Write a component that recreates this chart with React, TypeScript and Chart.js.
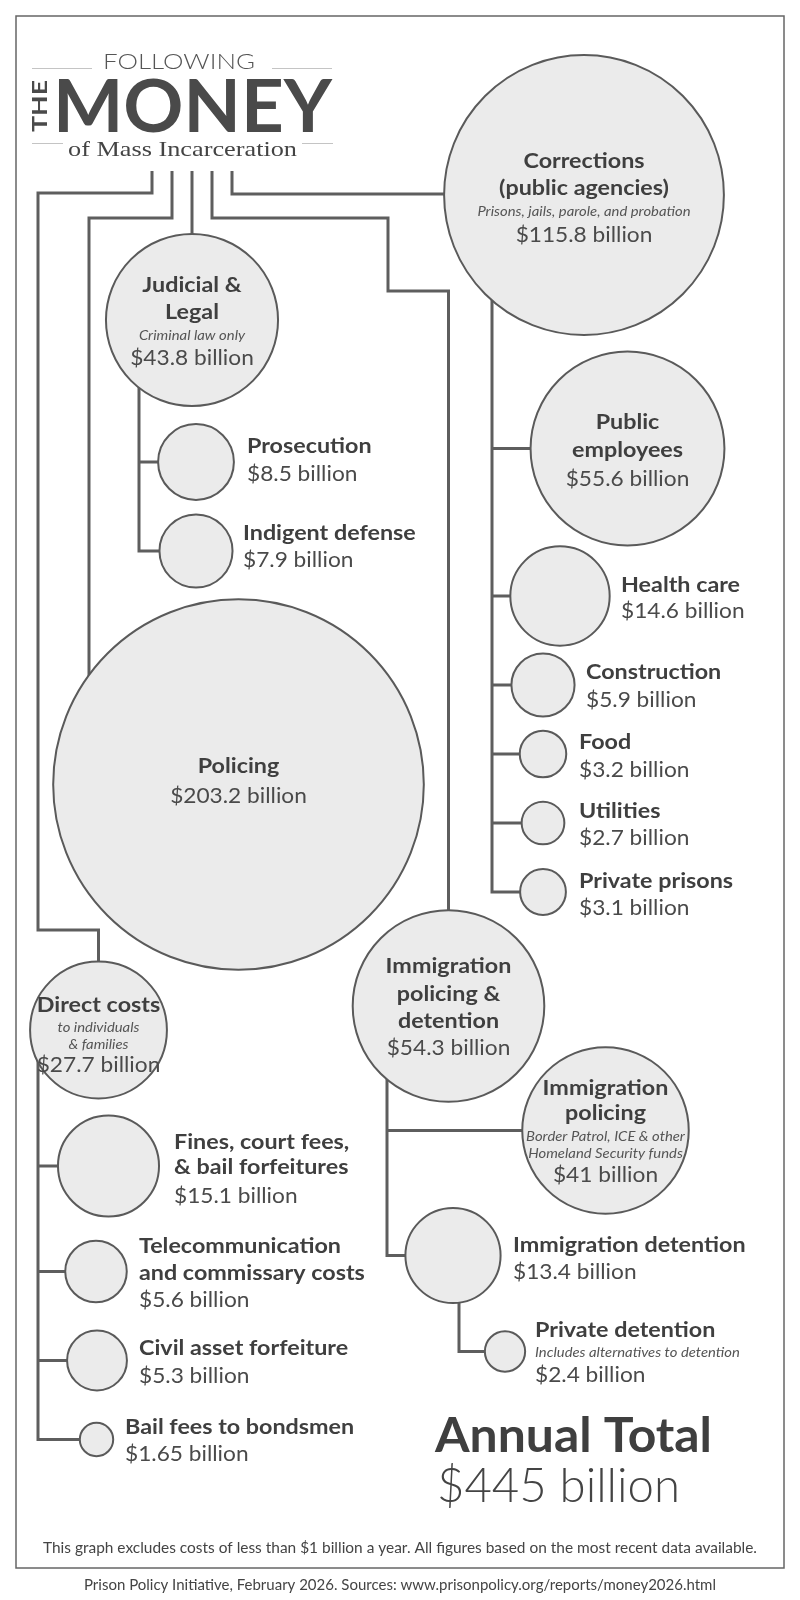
import React, { useEffect, useRef } from 'react';
import { Chart, registerables } from 'chart.js';
Chart.register(...registerables);

// ---------- DATA ----------
const categories = [
  'Corrections (public agencies)', 'Public employees', 'Health care', 'Construction', 'Food', 'Utilities', 'Private prisons',
  'Judicial & Legal', 'Prosecution', 'Indigent defense', 'Policing',
  'Direct costs', 'Fines, court fees, & bail forfeitures', 'Telecommunication and commissary costs', 'Civil asset forfeiture', 'Bail fees to bondsmen',
  'Immigration policing & detention', 'Immigration policing', 'Immigration detention', 'Private detention',
];
const valuesBillions = [115.8, 55.6, 14.6, 5.9, 3.2, 2.7, 3.1, 43.8, 8.5, 7.9, 203.2, 27.7, 15.1, 5.6, 5.3, 1.65, 54.3, 41, 13.4, 2.4];
const annualTotalBillions = 445;

// ---------- LAYOUT (positions / text placement, not data) ----------
const RADIUS_K = 13; // px per sqrt(billion)
const centers: [number, number][] = [
  [584, 195], [627.5, 448.5], [560, 596], [543, 685], [543, 754], [543, 823], [543, 892],
  [192, 320], [196, 462], [196, 551], [238.5, 784.5],
  [98.5, 1030], [108.5, 1166], [96, 1271.5], [97, 1360.5], [96.5, 1439.5],
  [448.5, 1006], [605.5, 1130.5], [453, 1255.5], [505, 1351.5],
];
type Lbl = { pos: 'in' | 'right'; dx?: number; title: string[]; note: string[]; dys: number[] };
const labels: Lbl[] = [
  { pos: 'in', title: ['Corrections', '(public agencies)'], note: ['Prisons, jails, parole, and probation'], dys: [-34, -7, 16, 40] },
  { pos: 'in', title: ['Public', 'employees'], note: [], dys: [-26.5, 1.5, 30.5] },
  { pos: 'right', dx: 61, title: ['Health care'], note: [], dys: [-11, 15] },
  { pos: 'right', dx: 43, title: ['Construction'], note: [], dys: [-13, 15] },
  { pos: 'right', dx: 36, title: ['Food'], note: [], dys: [-12, 16] },
  { pos: 'right', dx: 36, title: ['Utilities'], note: [], dys: [-12, 15] },
  { pos: 'right', dx: 36, title: ['Private prisons'], note: [], dys: [-11, 16] },
  { pos: 'in', title: ['Judicial &', 'Legal'], note: ['Criminal law only'], dys: [-35, -8, 15, 38] },
  { pos: 'right', dx: 51, title: ['Prosecution'], note: [], dys: [-16, 12] },
  { pos: 'right', dx: 47, title: ['Indigent defense'], note: [], dys: [-18, 9] },
  { pos: 'in', title: ['Policing'], note: [], dys: [-18.5, 11.5] },
  { pos: 'in', title: ['Direct costs'], note: ['to individuals', '& families'], dys: [-25, -3, 14, 35] },
  { pos: 'right', dx: 65.5, title: ['Fines, court fees,', '& bail forfeitures'], note: [], dys: [-24, 1, 30] },
  { pos: 'right', dx: 43, title: ['Telecommunication', 'and commissary costs'], note: [], dys: [-25, 1.5, 29] },
  { pos: 'right', dx: 42, title: ['Civil asset forfeiture'], note: [], dys: [-12, 16] },
  { pos: 'right', dx: 28.5, title: ['Bail fees to bondsmen'], note: [], dys: [-12, 15] },
  { pos: 'in', title: ['Immigration', 'policing &', 'detention'], note: [], dys: [-40, -12, 15, 42] },
  { pos: 'in', title: ['Immigration', 'policing'], note: ['Border Patrol, ICE & other', 'Homeland Security funds'], dys: [-42.5, -17.5, 5.5, 22.5, 45] },
  { pos: 'right', dx: 60, title: ['Immigration detention'], note: [], dys: [-10.5, 17] },
  { pos: 'right', dx: 30, title: ['Private detention'], note: ['Includes alternatives to detention'], dys: [-21, 0.5, 24] },
];
// connectors from title to top-level nodes: waypoints, then final leg toward node ('v' vertical, 'h' horizontal)
const stubs: { node: number; pts: [number, number][]; end: 'v' | 'h' }[] = [
  { node: 11, pts: [[152, 171], [152, 193], [38, 193], [38, 930], [98.5, 930]], end: 'v' },
  { node: 10, pts: [[172, 171], [172, 218], [89, 218]], end: 'v' },
  { node: 7, pts: [[192, 171]], end: 'v' },
  { node: 16, pts: [[212, 171], [212, 218], [388, 218], [388, 291], [448.5, 291]], end: 'v' },
  { node: 0, pts: [[232, 171], [232, 194]], end: 'h' },
];
const branches = [
  { x: 492, parent: 0, children: [1, 2, 3, 4, 5, 6] },
  { x: 139, parent: 7, children: [8, 9] },
  { x: 38, parent: 11, children: [12, 13, 14, 15] },
  { x: 387, parent: 16, children: [17, 18] },
  { x: 459, parent: 18, children: [19] },
];

const LINE = '#5e5e5e';
const BOLD = '#3f3f3f';
const REG = '#4a4a4a';
const FONT = 'Lato, "Open Sans", sans-serif';

function fitText(ctx: CanvasRenderingContext2D, text: string, x: number, y: number, w: number, align: CanvasTextAlign) {
  ctx.save();
  ctx.textAlign = 'left';
  const m = ctx.measureText(text).width;
  const s = w / m;
  let x0 = x;
  if (align === 'center') x0 = x - w / 2;
  if (align === 'right') x0 = x - w;
  ctx.translate(x0, y);
  ctx.scale(s, 1);
  ctx.fillText(text, 0, 0);
  ctx.restore();
}

function scaledText(ctx: CanvasRenderingContext2D, text: string, x: number, y: number, sx: number) {
  ctx.save();
  ctx.translate(x, y);
  ctx.scale(sx, 1);
  ctx.fillText(text, 0, 0);
  ctx.restore();
}

const decor = {
  id: 'decor',
  beforeDatasetsDraw(chart: any) {
    const ctx: CanvasRenderingContext2D = chart.ctx;
    const xs = chart.scales.x, ys = chart.scales.y;
    const px = (v: number) => xs.getPixelForValue(v);
    const py = (v: number) => ys.getPixelForValue(v);
    const els = chart.getDatasetMeta(0).data;
    ctx.save();
    ctx.fillStyle = '#ffffff';
    ctx.fillRect(0, 0, chart.width, chart.height);
    // frame
    ctx.strokeStyle = '#666';
    ctx.lineWidth = 1.5;
    ctx.strokeRect(16, 16, 768, 1552);
    // connectors
    ctx.strokeStyle = LINE;
    ctx.lineWidth = 3;
    ctx.lineJoin = 'miter';
    ctx.lineCap = 'butt';
    for (const s of stubs) {
      const el = els[s.node];
      ctx.beginPath();
      s.pts.forEach((p, i) => (i ? ctx.lineTo(px(p[0]), py(p[1])) : ctx.moveTo(px(p[0]), py(p[1]))));
      const last = s.pts[s.pts.length - 1];
      if (s.end === 'v') ctx.lineTo(px(last[0]), el.y);
      else ctx.lineTo(el.x, py(last[1]));
      ctx.stroke();
    }
    for (const b of branches) {
      const pEl = els[b.parent];
      const lastEl = els[b.children[b.children.length - 1]];
      ctx.beginPath();
      ctx.moveTo(px(b.x), pEl.y);
      ctx.lineTo(px(b.x), lastEl.y + 1.5);
      for (const c of b.children) {
        const cEl = els[c];
        ctx.moveTo(px(b.x) - 1.5, cEl.y);
        ctx.lineTo(cEl.x, cEl.y);
      }
      ctx.stroke();
    }
    ctx.restore();
  },
  afterDatasetsDraw(chart: any) {
    const ctx: CanvasRenderingContext2D = chart.ctx;
    const els = chart.getDatasetMeta(0).data;
    ctx.save();
    ctx.textBaseline = 'middle';
    labels.forEach((l, i) => {
      const el = els[i];
      const v = valuesBillions[i];
      const lines: [string, string][] = [
        ...l.title.map((t) => [t, 'b'] as [string, string]),
        ...l.note.map((t) => [t, 'i'] as [string, string]),
        [`$${v} billion`, 'v'],
      ];
      const x = l.pos === 'in' ? el.x : el.x + (l.dx || 0);
      ctx.textAlign = l.pos === 'in' ? 'center' : 'left';
      lines.forEach(([t, k], j) => {
        let sx = 1;
        if (k === 'b') { ctx.font = `bold 21px ${FONT}`; ctx.fillStyle = BOLD; sx = 1.11; }
        else if (k === 'i') { ctx.font = `italic 14px ${FONT}`; ctx.fillStyle = '#555'; sx = 1.06; }
        else { ctx.font = `21px ${FONT}`; ctx.fillStyle = REG; sx = 1.08; }
        scaledText(ctx, t, x, el.y + l.dys[j], sx);
      });
    });

    // title block
    ctx.textBaseline = 'alphabetic';
    ctx.strokeStyle = '#c4c4c4';
    ctx.lineWidth = 1;
    ctx.beginPath();
    ctx.moveTo(32, 68.5); ctx.lineTo(92, 68.5);
    ctx.moveTo(272, 68.5); ctx.lineTo(332, 68.5);
    ctx.moveTo(32, 143.5); ctx.lineTo(63, 143.5);
    ctx.moveTo(302, 143.5); ctx.lineTo(333, 143.5);
    ctx.stroke();
    ctx.fillStyle = '#555';
    ctx.font = `300 21px ${FONT}`;
    fitText(ctx, 'FOLLOWING', 179, 69, 152, 'center');
    ctx.fillStyle = '#4a4a4a';
    ctx.font = `bold 72px ${FONT}`;
    fitText(ctx, 'MONEY', 53, 132, 279, 'left');
    ctx.save();
    ctx.translate(47, 106);
    ctx.rotate(-Math.PI / 2);
    ctx.font = `bold 20px ${FONT}`;
    fitText(ctx, 'THE', 0, 0, 52, 'center');
    ctx.restore();
    ctx.fillStyle = '#444';
    ctx.font = `21px "Liberation Serif", "DejaVu Serif", serif`;
    fitText(ctx, 'of Mass Incarceration', 182.5, 156, 229, 'center');

    // annual total
    ctx.fillStyle = '#3f3f3f';
    ctx.font = `bold 47px ${FONT}`;
    fitText(ctx, 'Annual Total', 435, 1452, 277, 'left');
    ctx.fillStyle = '#444';
    ctx.font = `300 47px ${FONT}`;
    fitText(ctx, `$${annualTotalBillions} billion`, 437, 1502, 243, 'left');

    // footer
    ctx.fillStyle = '#444';
    ctx.font = `15px ${FONT}`;
    fitText(ctx, 'This graph excludes costs of less than $1 billion a year. All figures based on the most recent data available.', 400, 1553, 714, 'center');
    fitText(ctx, 'Prison Policy Initiative, February 2026. Sources: www.prisonpolicy.org/reports/money2026.html', 400, 1590, 632, 'center');
    ctx.restore();
  },
};

export default function App() {
  const ref = useRef<HTMLCanvasElement>(null);
  useEffect(() => {
    document.body.style.margin = '0';
    const canvas = ref.current!;
    const data = categories.map((c, i) => ({
      x: centers[i][0],
      y: centers[i][1],
      r: RADIUS_K * Math.sqrt(valuesBillions[i]),
    }));
    const chart = new Chart(canvas, {
      type: 'bubble',
      data: {
        labels: categories,
        datasets: [{
          label: 'Annual spending (billions)',
          data,
          backgroundColor: '#ebebeb',
          borderColor: '#5a5a5a',
          borderWidth: 2,
          hoverBorderWidth: 2,
          hoverRadius: 0,
          clip: false as any,
        }],
      },
      options: {
        responsive: false,
        animation: false,
        devicePixelRatio: 1,
        events: [],
        layout: { padding: 0, autoPadding: false },
        scales: {
          x: { type: 'linear', min: 0, max: 800, display: false },
          y: { type: 'linear', min: 0, max: 1600, reverse: true, display: false },
        },
        plugins: { legend: { display: false }, tooltip: { enabled: false } },
      },
      plugins: [decor],
    });
    return () => chart.destroy();
  }, []);
  return <canvas ref={ref} width={800} height={1600} style={{ display: 'block' }} />;
}
